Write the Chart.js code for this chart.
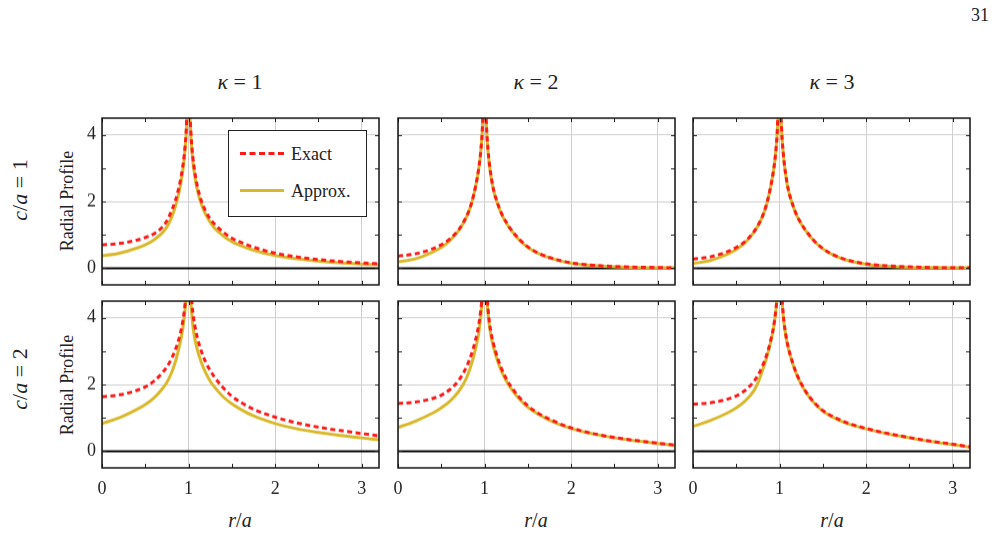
<!DOCTYPE html>
<html>
<head>
<meta charset="utf-8">
<script src="https://cdn.jsdelivr.net/npm/chart.js@4/dist/chart.umd.min.js"></script>
<style>
  html, body { margin: 0; padding: 0; background: #fff; }
  #wrap { position: relative; width: 997px; height: 535px; overflow: hidden; font-family: "Liberation Serif", "DejaVu Serif", serif; color: #222; }
  .cv { position: absolute; }
  .txt { position: absolute; white-space: nowrap; line-height: 1; }
  .rot { transform: translate(-50%, -50%) rotate(-90deg); }
  .ctr { transform: translate(-50%, -50%); }
  i { font-style: italic; }
  #legend { position: absolute; left: 228px; top: 130px; width: 139px; height: 87px; border: 1px solid #222; background: #fff; box-sizing: border-box; }
  .lgline { position: absolute; left: 11px; width: 44px; height: 0; }
  .lgtext { position: absolute; left: 62px; font-size: 18px; line-height: 1; }
</style>
</head>
<body>
<div id="wrap">
  <div class="txt" style="left:971px; top:6px; font-size:18px;">31</div>
  <div class="txt ctr" style="left:240px; top:82px; font-size:22px;"><i>κ</i> = 1</div>
  <div class="txt ctr" style="left:536px; top:82px; font-size:22px;"><i>κ</i> = 2</div>
  <div class="txt ctr" style="left:832px; top:82px; font-size:22px;"><i>κ</i> = 3</div>
  <div class="txt rot" style="left:20px; top:190px; font-size:22px;"><i>c</i>/<i>a</i> = 1</div>
  <div class="txt rot" style="left:20px; top:379px; font-size:22px;"><i>c</i>/<i>a</i> = 2</div>
  <div class="txt rot" style="left:67px; top:201px; font-size:18px;">Radial Profile</div>
  <div class="txt rot" style="left:67px; top:385px; font-size:18px;">Radial Profile</div>
  <div class="txt ctr" style="left:240px; top:520px; font-size:20px;"><i>r</i>/<i>a</i></div>
  <div class="txt ctr" style="left:536px; top:520px; font-size:20px;"><i>r</i>/<i>a</i></div>
  <div class="txt ctr" style="left:832px; top:520px; font-size:20px;"><i>r</i>/<i>a</i></div>
</div>
<script>
// ---- data ----
const rValues = [0, 0.2, 0.4, 0.5, 0.6, 0.7, 0.75, 0.8, 0.85, 0.9, 0.93, 0.95, 0.97, 0.985,
                 1.015, 1.03, 1.05, 1.07, 1.1, 1.15, 1.2, 1.25, 1.3, 1.4, 1.5, 1.6, 1.75, 2, 2.25, 2.5, 2.75, 3, 3.2];

// c/a = 1
const exactC1K1  = [0.70, 0.74, 0.84, 0.92, 1.03, 1.24, 1.42, 1.70, 2.05, 2.56, 3.0, 3.4, 4.0, 4.7,
                    4.6, 3.92, 3.32, 2.92, 2.48, 2.0, 1.7, 1.48, 1.32, 1.08, 0.9, 0.78, 0.63, 0.45, 0.34, 0.26, 0.2, 0.16, 0.13];
const approxC1K1 = [0.37, 0.45, 0.6, 0.7, 0.85, 1.07, 1.24, 1.5, 1.87, 2.4, 2.87, 3.28, 3.9, 4.6,
                    4.5, 3.82, 3.2, 2.8, 2.36, 1.9, 1.6, 1.38, 1.2, 0.97, 0.8, 0.68, 0.54, 0.38, 0.28, 0.21, 0.16, 0.12, 0.1];

const exactC1K2  = [0.36, 0.43, 0.58, 0.7, 0.88, 1.15, 1.35, 1.6, 1.96, 2.5, 2.95, 3.35, 3.95, 4.65,
                    4.55, 3.88, 3.27, 2.85, 2.4, 1.95, 1.62, 1.38, 1.18, 0.87, 0.64, 0.48, 0.32, 0.16, 0.09, 0.05, 0.03, 0.02, 0.01];
const approxC1K2 = [0.19, 0.28, 0.48, 0.62, 0.83, 1.12, 1.33, 1.58, 1.94, 2.48, 2.93, 3.33, 3.93, 4.63,
                    4.53, 3.85, 3.24, 2.82, 2.38, 1.93, 1.6, 1.36, 1.16, 0.85, 0.62, 0.47, 0.31, 0.15, 0.08, 0.04, 0.02, 0.01, 0.01];

const exactC1K3  = [0.27, 0.34, 0.5, 0.62, 0.8, 1.08, 1.28, 1.54, 1.92, 2.48, 2.93, 3.33, 3.93, 4.63,
                    4.53, 3.86, 3.25, 2.83, 2.37, 1.92, 1.58, 1.34, 1.14, 0.82, 0.59, 0.43, 0.27, 0.13, 0.07, 0.04, 0.02, 0.01, 0.01];
const approxC1K3 = [0.14, 0.23, 0.42, 0.56, 0.76, 1.06, 1.27, 1.53, 1.91, 2.47, 2.92, 3.32, 3.92, 4.62,
                    4.52, 3.85, 3.24, 2.82, 2.36, 1.91, 1.57, 1.33, 1.13, 0.81, 0.58, 0.42, 0.26, 0.12, 0.06, 0.03, 0.02, 0.01, 0.01];

// c/a = 2
const exactC2K1  = [1.63, 1.69, 1.82, 1.93, 2.1, 2.36, 2.53, 2.76, 3.06, 3.48, 3.85, 4.2, 4.7, 5.3,
                    5.2, 4.7, 4.15, 3.8, 3.42, 2.98, 2.66, 2.42, 2.22, 1.9, 1.65, 1.47, 1.26, 1.02, 0.85, 0.72, 0.62, 0.53, 0.46];
const approxC2K1 = [0.83, 1.0, 1.25, 1.4, 1.6, 1.88, 2.07, 2.33, 2.7, 3.22, 3.62, 4.0, 4.55, 5.2,
                    5.0, 4.35, 3.75, 3.4, 3.05, 2.64, 2.34, 2.1, 1.92, 1.63, 1.42, 1.26, 1.06, 0.83, 0.67, 0.56, 0.47, 0.4, 0.34];

const exactC2K2  = [1.43, 1.47, 1.58, 1.68, 1.85, 2.12, 2.32, 2.58, 2.92, 3.38, 3.75, 4.1, 4.6, 5.3,
                    5.2, 4.6, 4.0, 3.62, 3.25, 2.8, 2.45, 2.18, 1.96, 1.62, 1.36, 1.17, 0.96, 0.7, 0.53, 0.41, 0.32, 0.24, 0.18];
const approxC2K2 = [0.71, 0.9, 1.14, 1.3, 1.5, 1.79, 1.99, 2.25, 2.62, 3.12, 3.5, 3.9, 4.45, 5.1,
                    5.05, 4.45, 3.88, 3.52, 3.15, 2.71, 2.37, 2.11, 1.9, 1.57, 1.32, 1.14, 0.93, 0.68, 0.52, 0.4, 0.31, 0.23, 0.17];

const exactC2K3  = [1.41, 1.45, 1.56, 1.66, 1.82, 2.08, 2.27, 2.54, 2.88, 3.35, 3.72, 4.08, 4.6, 5.3,
                    5.15, 4.5, 3.9, 3.52, 3.12, 2.66, 2.3, 2.03, 1.8, 1.46, 1.22, 1.06, 0.88, 0.68, 0.53, 0.41, 0.3, 0.21, 0.13];
const approxC2K3 = [0.74, 0.92, 1.15, 1.3, 1.5, 1.8, 2.05, 2.4, 2.8, 3.3, 3.68, 4.05, 4.58, 5.25,
                    5.1, 4.45, 3.87, 3.5, 3.1, 2.64, 2.28, 2.01, 1.78, 1.44, 1.2, 1.04, 0.86, 0.67, 0.52, 0.4, 0.29, 0.2, 0.12];

const seriesNames = ["Exact", "Approx."];
const xTickValues = [0, 1, 2, 3];
const yTickValues = [0, 2, 4];

// ---- layout ----
const colLeft = [102, 397.5, 693];
const rowTop = [118, 301];
const panelW = 277;
const panelH = 166.5;
const PADL = 40, PADT = 24, PADR = 12, PADB = 40;

const panels = [
  { row: 0, col: 0, exact: exactC1K1, approx: approxC1K1 },
  { row: 0, col: 1, exact: exactC1K2, approx: approxC1K2 },
  { row: 0, col: 2, exact: exactC1K3, approx: approxC1K3 },
  { row: 1, col: 0, exact: exactC2K1, approx: approxC2K1 },
  { row: 1, col: 1, exact: exactC2K2, approx: approxC2K2 },
  { row: 1, col: 2, exact: exactC2K3, approx: approxC2K3 },
];

const RED = '#ff1a1a';
const YELLOW = '#d9b92b';
const FONT = '"Liberation Serif", "DejaVu Serif", serif';

const frameTicks = {
  id: 'frameTicks',
  beforeDatasetsDraw(chart) {
    const { ctx, chartArea: a, scales } = chart;
    const y0 = scales.y.getPixelForValue(0);
    ctx.save();
    ctx.strokeStyle = '#000';
    ctx.lineWidth = 2;
    ctx.beginPath(); ctx.moveTo(a.left, y0); ctx.lineTo(a.right, y0); ctx.stroke();
    ctx.restore();
  },
  afterDatasetsDraw(chart) {
    const { ctx, chartArea: a, scales } = chart;
    const xs = scales.x, ys = scales.y;
    ctx.save();
    ctx.strokeStyle = '#222';
    ctx.lineWidth = 1;
    const L = 4;
    for (let v = 0; v <= 3.2; v += 0.5) {
      const px = Math.round(xs.getPixelForValue(v)) + 0.5;
      ctx.beginPath();
      ctx.moveTo(px, a.top); ctx.lineTo(px, a.top + L);
      ctx.moveTo(px, a.bottom); ctx.lineTo(px, a.bottom - L);
      ctx.stroke();
    }
    for (let v = 0; v <= 4; v += 1) {
      const py = Math.round(ys.getPixelForValue(v)) + 0.5;
      ctx.beginPath();
      ctx.moveTo(a.left, py); ctx.lineTo(a.left + L, py);
      ctx.moveTo(a.right, py); ctx.lineTo(a.right - L, py);
      ctx.stroke();
    }
    ctx.lineWidth = 1.5;
    ctx.strokeStyle = '#111';
    ctx.strokeRect(a.left, a.top, a.right - a.left, a.bottom - a.top);
    ctx.restore();
  }
};

const wrap = document.getElementById('wrap');
panels.forEach(p => {
  const c = document.createElement('canvas');
  const w = panelW + PADL + PADR, h = panelH + PADT + PADB;
  c.width = w; c.height = h;
  c.className = 'cv';
  c.style.left = (colLeft[p.col] - PADL) + 'px';
  c.style.top = (rowTop[p.row] - PADT) + 'px';
  c.style.width = w + 'px'; c.style.height = h + 'px';
  wrap.appendChild(c);
  const showX = p.row === 1, showY = p.col === 0;
  new Chart(c, {
    type: 'line',
    data: {
      datasets: [
        { label: seriesNames[0], data: rValues.map((r, i) => ({ x: r, y: p.exact[i] })),
          borderColor: RED, borderWidth: 3, borderDash: [5, 3.5], pointRadius: 0,
          cubicInterpolationMode: 'monotone', fill: false },
        { label: seriesNames[1], data: rValues.map((r, i) => ({ x: r, y: p.approx[i] })),
          borderColor: YELLOW, borderWidth: 3, pointRadius: 0,
          cubicInterpolationMode: 'monotone', fill: false },
      ]
    },
    options: {
      responsive: false, animation: false, devicePixelRatio: 1,
      layout: { padding: { left: 0, top: PADT, right: PADR, bottom: 0 } },
      plugins: { legend: { display: false }, tooltip: { enabled: false } },
      scales: {
        x: {
          type: 'linear', min: 0, max: 3.2,
          afterFit: s => { s.height = PADB; s.paddingLeft = 0; s.paddingRight = 0; },
          afterBuildTicks: s => { s.ticks = xTickValues.map(v => ({ value: v })); },
          ticks: { display: showX, includeBounds: false, stepSize: 1, padding: 10,
                   color: '#222', font: { family: FONT, size: 18 } },
          grid: { color: '#cfcfcf', lineWidth: 1, drawTicks: false },
          border: { display: false }
        },
        y: {
          type: 'linear', min: -0.5, max: 4.5,
          afterFit: s => { s.width = PADL; s.paddingTop = 0; s.paddingBottom = 0; },
          afterBuildTicks: s => { s.ticks = yTickValues.map(v => ({ value: v })); },
          ticks: { display: showY, includeBounds: false, stepSize: 2, padding: 6,
                   color: '#222', font: { family: FONT, size: 18 } },
          grid: { color: '#cfcfcf', lineWidth: 1, drawTicks: false },
          border: { display: false }
        }
      }
    },
    plugins: [frameTicks]
  });
});

// legend (in first panel)
const lg = document.createElement('div');
lg.id = 'legend';
lg.innerHTML =
  '<div class="lgline" style="top:21px; border-top:3px dashed ' + RED + ';"></div>' +
  '<div class="lgtext" style="top:14px;">' + seriesNames[0] + '</div>' +
  '<div class="lgline" style="top:58px; border-top:3px solid ' + YELLOW + ';"></div>' +
  '<div class="lgtext" style="top:51px;">' + seriesNames[1] + '</div>';
wrap.appendChild(lg);
</script>
</body>
</html>
